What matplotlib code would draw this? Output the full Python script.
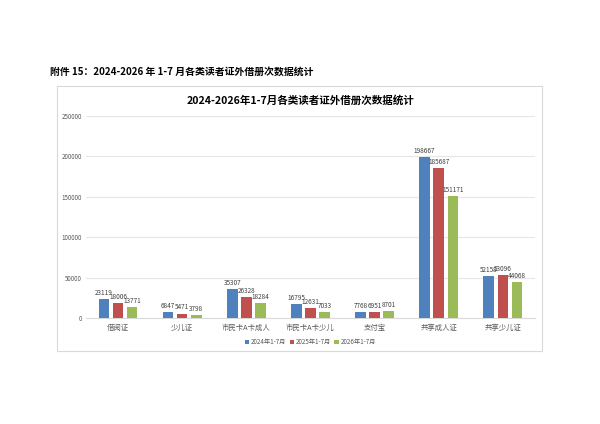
import numpy as np
import matplotlib.pyplot as plt
from matplotlib.patches import Rectangle

plt.rcParams['font.family'] = ['Noto Sans CJK SC', 'DejaVu Sans']

categories = ['借阅证', '少儿证', '市民卡A卡成人', '市民卡A卡少儿', '支付宝', '共享成人证', '共享少儿证']
series_names = ['2024年1-7月', '2025年1-7月', '2026年1-7月']
v2024 = [23119, 6847, 35307, 16795, 7768, 198667, 52158]
v2025 = [18006, 5471, 26328, 12631, 6951, 185687, 53096]
v2026 = [13771, 3798, 18284, 7033, 8701, 151171, 44068]
colors = ['#4F81BD', '#C0504D', '#9BBB59']

fig = plt.figure(figsize=(6, 4.24), dpi=100)
fig.patch.set_facecolor('white')

# chart frame, drawn under the axes
fig.patches.append(Rectangle((0.095, 0.172), 0.808, 0.625, transform=fig.transFigure,
                             facecolor='white', edgecolor='#D9D9D9', linewidth=0.8, zorder=-1))

fig.text(0.083, 0.830, '附件 15：2024-2026 年 1-7 月各类读者证外借册次数据统计',
         fontsize=7.1, fontweight='bold', va='center', ha='left')
fig.text(0.5, 0.764, '2024-2026年1-7月各类读者证外借册次数据统计',
         fontsize=7.6, fontweight='bold', va='center', ha='center')

ax = fig.add_axes([0.1433, 0.25, 0.7483, 0.4771])
ax.set_facecolor('none')
x = np.arange(len(categories))
w = 0.165
off = 0.22
for i, (vals, name) in enumerate(zip([v2024, v2025, v2026], series_names)):
    bars = ax.bar(x + (i - 1) * off, vals, width=w, color=colors[i], label=name, zorder=3)
    ax.bar_label(bars, labels=[str(v) for v in vals], padding=1.5, fontsize=4.6, color='#404040')

ax.set_xlim(-0.5, len(categories) - 0.5)
ax.set_ylim(0, 250000)
ax.set_yticks(np.arange(0, 250001, 50000))
ax.set_xticks(x)
ax.set_xticklabels(categories, fontsize=5.3, color='#595959')
ax.tick_params(axis='y', labelsize=4.5, colors='#595959', length=0, pad=3)
ax.tick_params(axis='x', length=0, pad=4)
ax.grid(axis='y', color='#E6E6E6', linewidth=0.8, zorder=0)
for s in ['top', 'right', 'left']:
    ax.spines[s].set_visible(False)
ax.spines['bottom'].set_color('#D9D9D9')

ax.legend(loc='center', bbox_to_anchor=(0.5, -0.12), ncol=3, frameon=False, fontsize=4.5,
          handlelength=0.7, handleheight=0.7, handletextpad=0.3, columnspacing=0.5,
          labelcolor='#595959')

fig.savefig('out.png', dpi=100)
